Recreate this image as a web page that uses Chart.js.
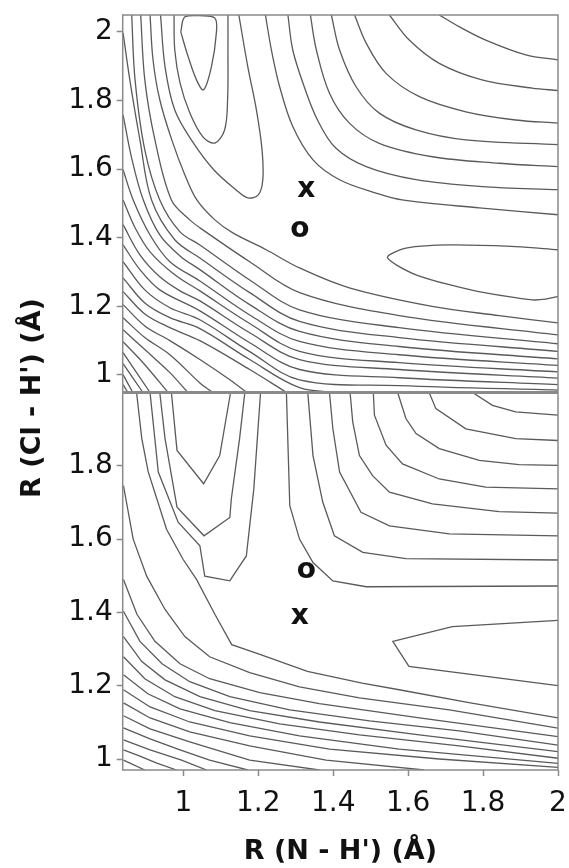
<!DOCTYPE html>
<html>
<head>
<meta charset="utf-8">
<script src="https://cdn.jsdelivr.net/npm/chart.js@4.4.1/dist/chart.umd.min.js"></script>
<style>
  html, body { margin: 0; padding: 0; background: #fff; }
  #wrap { width: 569px; height: 868px; }
  canvas { display: block; }
</style>
</head>
<body>
<div id="wrap"><canvas id="pes" width="569" height="868"></canvas></div>
<script>
// tick labels
const xTicks = [1, 1.2, 1.4, 1.6, 1.8, 2];
const yTicksTop = [1, 1.2, 1.4, 1.6, 1.8, 2];
const yTicksBottom = [1, 1.2, 1.4, 1.6, 1.8];

// --- upper panel contours, [R(N-H'), R(Cl-H')] ---
const topValleyLeft = [
  [[0.993,2.00],[1.004,2.044],[1.044,2.047],[1.084,2.040],[1.088,1.997],[1.075,1.899],[1.054,1.831],[1.035,1.860],[1.010,1.937],[0.993,2.00]],
  [[0.975,2.049],[0.977,1.947],[0.991,1.851],[1.017,1.764],[1.052,1.694],[1.084,1.676],[1.110,1.714],[1.118,1.802],[1.119,1.947],[1.119,2.049]],
  [[0.939,2.049],[0.951,1.898],[0.977,1.772],[1.023,1.682],[1.081,1.598],[1.140,1.540],[1.172,1.516],[1.200,1.525],[1.212,1.569],[1.210,1.656],[1.195,1.772],[1.172,1.898],[1.148,2.049]]
];
const topArcsUpper = [
  [[1.683,2.049],[1.736,2.015],[1.807,1.976],[1.914,1.933],[2.0,1.918]],
  [[1.550,2.049],[1.603,1.976],[1.683,1.908],[1.797,1.860],[1.931,1.836],[2.0,1.829]],
  [[1.457,2.049],[1.488,1.967],[1.541,1.879],[1.630,1.811],[1.754,1.767],[1.887,1.743],[2.0,1.734]],
  [[1.395,2.049],[1.417,1.947],[1.461,1.840],[1.523,1.763],[1.621,1.714],[1.754,1.685],[2.0,1.671]],
  [[1.339,2.049],[1.355,1.947],[1.390,1.821],[1.443,1.734],[1.523,1.675],[1.665,1.636],[1.843,1.617],[2.0,1.607]],
  [[1.279,2.049],[1.292,1.947],[1.321,1.845],[1.358,1.743],[1.406,1.662],[1.488,1.607],[1.621,1.569],[1.797,1.549],[2.0,1.540]],
  [[1.219,2.049],[1.235,1.947],[1.257,1.840],[1.292,1.724],[1.346,1.627],[1.417,1.569],[1.514,1.530],[1.584,1.510],[1.790,1.487],[2.0,1.467]]
];
const topValleyRight = [
  [[2.0,1.365],[1.887,1.374],[1.710,1.379],[1.594,1.370],[1.550,1.350],[1.545,1.341],[1.568,1.321],[1.621,1.292],[1.710,1.263],[1.807,1.239],[1.931,1.219],[1.967,1.221],[2.0,1.229]]
];
const topWallLower = [
  [[0.911,2.049],[0.919,1.918],[0.937,1.802],[0.969,1.685],[1.004,1.583],[1.036,1.510],[1.084,1.452],[1.132,1.414],[1.221,1.365],[1.310,1.312],[1.443,1.254],[1.664,1.200],[1.843,1.173],[2.0,1.152]],
  [[0.886,2.049],[0.897,1.860],[0.924,1.685],[0.968,1.510],[1.017,1.452],[1.044,1.429],[1.177,1.330],[1.310,1.240],[1.576,1.173],[2.0,1.117]],
  [[0.862,2.049],[0.871,1.860],[0.897,1.656],[0.937,1.510],[0.991,1.417],[1.044,1.379],[1.177,1.277],[1.310,1.190],[1.576,1.138],[2.0,1.091]],
  [[0.839,1.997],[0.857,1.860],[0.884,1.685],[0.915,1.510],[0.977,1.394],[1.044,1.341],[1.177,1.240],[1.310,1.156],[1.576,1.109],[2.0,1.069]],
  [[0.839,1.758],[0.863,1.627],[0.893,1.510],[0.937,1.408],[0.991,1.347],[1.044,1.307],[1.177,1.205],[1.310,1.127],[1.576,1.083],[2.0,1.047]],
  [[0.839,1.598],[0.866,1.510],[0.911,1.408],[0.964,1.330],[1.044,1.274],[1.177,1.175],[1.310,1.098],[1.576,1.059],[2.0,1.028]],
  [[0.839,1.510],[0.871,1.429],[0.911,1.359],[0.977,1.292],[1.044,1.245],[1.177,1.150],[1.310,1.069],[1.576,1.036],[2.0,1.009]],
  [[0.839,1.438],[0.884,1.350],[0.937,1.286],[0.991,1.245],[1.044,1.216],[1.177,1.123],[1.310,1.045],[1.576,1.016],[2.0,0.991]],
  [[0.839,1.379],[0.884,1.307],[0.937,1.248],[1.044,1.187],[1.177,1.094],[1.310,1.016],[1.576,0.992],[2.0,0.972]],
  [[0.839,1.330],[0.897,1.248],[0.964,1.196],[1.044,1.161],[1.177,1.068],[1.310,0.986],[1.576,0.969],[2.0,0.956]],
  [[0.839,1.283],[0.897,1.210],[0.964,1.167],[1.044,1.135],[1.177,1.045],[1.310,0.963],[1.417,0.949]],
  [[0.839,1.243],[0.897,1.178],[0.964,1.138],[1.044,1.100],[1.177,1.016],[1.276,0.949]],
  [[0.839,1.205],[0.897,1.143],[0.964,1.100],[1.044,1.045],[1.124,0.986],[1.169,0.949]],
  [[0.839,1.167],[0.897,1.109],[0.964,1.059],[1.044,0.977],[1.078,0.949]],
  [[0.839,1.132],[0.897,1.074],[0.964,1.007],[1.012,0.949]],
  [[0.839,1.097],[0.897,1.030],[0.959,0.949]],
  [[0.839,1.065],[0.911,0.949]],
  [[0.839,1.033],[0.892,0.949]],
  [[0.839,1.001],[0.865,0.949]],
  [[0.839,0.972],[0.852,0.949]]
];

// --- lower panel contours ---
const bottomValleyLeft = [
  [[0.968,2.0],[0.983,1.842],[1.054,1.751],[1.097,1.828],[1.126,2.0]],
  [[0.937,2.0],[0.951,1.874],[0.983,1.687],[1.055,1.609],[1.124,1.659],[1.128,1.710],[1.150,1.874],[1.164,2.0]],
  [[0.911,2.0],[0.933,1.783],[0.986,1.646],[1.044,1.582],[1.057,1.499],[1.124,1.486],[1.132,1.499],[1.168,1.554],[1.188,1.737],[1.206,2.0]]
];
const bottomArcsUpper = [
  [[1.772,2.0],[1.825,1.965],[1.887,1.947],[2.0,1.938]],
  [[1.656,2.0],[1.674,1.956],[1.754,1.901],[1.887,1.874],[2.0,1.869]],
  [[1.572,2.0],[1.594,1.929],[1.621,1.888],[1.683,1.847],[1.790,1.815],[1.896,1.803],[2.0,1.801]],
  [[1.507,2.0],[1.510,1.938],[1.541,1.856],[1.585,1.805],[1.683,1.764],[1.807,1.742],[2.0,1.737]],
  [[1.445,2.0],[1.452,1.920],[1.470,1.828],[1.505,1.773],[1.550,1.728],[1.665,1.696],[1.843,1.675],[2.0,1.671]],
  [[1.390,2.0],[1.399,1.901],[1.417,1.783],[1.474,1.673],[1.550,1.636],[1.710,1.614],[2.0,1.609]],
  [[1.332,2.0],[1.346,1.828],[1.372,1.701],[1.403,1.609],[1.479,1.564],[1.594,1.547],[2.0,1.543]],
  [[1.275,2.0],[1.284,1.691],[1.310,1.600],[1.346,1.536],[1.399,1.486],[1.488,1.470],[2.0,1.472]]
];
const bottomValleyRight = [
  [[2.0,1.378],[1.718,1.361],[1.559,1.321],[1.602,1.253],[2.0,1.200]]
];
const bottomWallLower = [
  [[0.875,2.0],[0.889,1.874],[0.906,1.784],[0.955,1.627],[0.999,1.545],[1.035,1.490],[1.084,1.395],[1.129,1.312],[1.206,1.285],[1.331,1.239],[1.477,1.207],[1.576,1.189],[1.766,1.153],[2.0,1.112]],
  [[0.840,1.746],[0.866,1.600],[0.902,1.499],[0.951,1.408],[1.004,1.334],[1.070,1.279],[1.177,1.236],[1.310,1.197],[1.470,1.167],[1.710,1.134],[2.0,1.084]],
  [[0.840,1.490],[0.876,1.395],[0.924,1.321],[0.991,1.260],[1.070,1.219],[1.204,1.181],[1.363,1.151],[1.630,1.112],[2.0,1.061]],
  [[0.840,1.403],[0.884,1.321],[0.943,1.260],[1.017,1.211],[1.124,1.170],[1.284,1.134],[1.497,1.104],[1.736,1.077],[2.0,1.038]],
  [[0.840,1.334],[0.889,1.266],[0.951,1.216],[1.044,1.170],[1.177,1.132],[1.363,1.101],[1.630,1.066],[2.0,1.020]],
  [[0.840,1.279],[0.897,1.219],[0.977,1.170],[1.084,1.132],[1.257,1.096],[1.470,1.066],[1.736,1.036],[2.0,1.002]],
  [[0.840,1.230],[0.905,1.178],[0.991,1.137],[1.124,1.099],[1.310,1.063],[1.576,1.027],[2.0,0.988]],
  [[0.840,1.189],[0.911,1.142],[1.017,1.101],[1.177,1.063],[1.390,1.027],[1.683,1.000],[2.0,0.977]],
  [[0.840,1.153],[0.911,1.112],[1.017,1.074],[1.177,1.036],[1.381,0.997],[1.643,0.970]],
  [[0.840,1.118],[0.911,1.082],[1.017,1.047],[1.177,0.997],[1.363,0.970]],
  [[0.840,1.085],[0.911,1.055],[0.991,1.025],[1.070,0.997],[1.172,0.970]],
  [[0.840,1.052],[0.911,1.025],[0.995,0.997],[1.062,0.970]],
  [[0.840,1.025],[0.884,1.008],[0.929,0.989],[0.982,0.970]],
  [[0.840,0.997],[0.897,0.970]]
];

// labelled points: [symbol, R(N-H'), R(Cl-H')]
const topMarkers = [['x', 1.328, 1.54], ['o', 1.311, 1.423]];
const bottomMarkers = [['o', 1.328, 1.513], ['x', 1.311, 1.389]];

const LINE = '#5a5a5a';
const FRAME = '#8a8a8a';
const INK = '#111';
const FONT = 'DejaVu Sans';

function toSets(lines, axis, tension) {
  return lines.map(line => ({
    data: line.map(([x, y]) => ({x, y})),
    yAxisID: axis,
    showLine: true,
    borderColor: LINE,
    borderWidth: 1.3,
    pointRadius: 0,
    tension: tension,
    fill: false
  }));
}

const datasets = [].concat(
  toSets(topValleyLeft, 'yTop', 0.35),
  toSets(topArcsUpper, 'yTop', 0.35),
  toSets(topValleyRight, 'yTop', 0.35),
  toSets(topWallLower, 'yTop', 0.35),
  toSets(bottomValleyLeft, 'yBot', 0),
  toSets(bottomArcsUpper, 'yBot', 0),
  toSets(bottomValleyRight, 'yBot', 0),
  toSets(bottomWallLower, 'yBot', 0)
);

// clip each contour to its own panel, then draw frame, markers and the shared y title
const panelPlugin = {
  id: 'panels',
  beforeDatasetDraw(chart, args) {
    const ys = chart.scales[args.meta.yAxisID];
    const a = chart.chartArea;
    chart.ctx.save();
    chart.ctx.beginPath();
    chart.ctx.rect(a.left, ys.top, a.right - a.left, ys.bottom - ys.top);
    chart.ctx.clip();
  },
  afterDatasetDraw(chart) {
    chart.ctx.restore();
  },
  afterDraw(chart) {
    const ctx = chart.ctx, a = chart.chartArea;
    const xs = chart.scales.x, yT = chart.scales.yTop, yB = chart.scales.yBot;
    ctx.save();
    ctx.strokeStyle = FRAME;
    ctx.lineWidth = 1.5;
    ctx.strokeRect(a.left, a.top, a.right - a.left, a.bottom - a.top);
    ctx.lineWidth = 3;
    ctx.beginPath();
    ctx.moveTo(a.left, yT.bottom);
    ctx.lineTo(a.right, yT.bottom);
    ctx.stroke();

    ctx.fillStyle = INK;
    ctx.font = 'bold 28px "' + FONT + '"';
    ctx.textAlign = 'center';
    ctx.textBaseline = 'middle';
    topMarkers.forEach(([ch, x, y]) => ctx.fillText(ch, xs.getPixelForValue(x), yT.getPixelForValue(y)));
    bottomMarkers.forEach(([ch, x, y]) => ctx.fillText(ch, xs.getPixelForValue(x), yB.getPixelForValue(y)));

    ctx.translate(33, 398);
    ctx.rotate(-Math.PI / 2);
    ctx.font = 'bold 27px "' + FONT + '"';
    ctx.fillText("R (Cl - H') (Å)", 0, 0);
    ctx.restore();
  }
};

function yAxis(min, max, ticks) {
  return {
    type: 'linear',
    position: 'left',
    stack: 'panels',
    stackWeight: 1,
    min: min,
    max: max,
    afterFit: s => { s.width = 122.7; s.paddingTop = 0; s.paddingBottom = 0; },
    afterBuildTicks: s => { s.ticks = ticks.map(v => ({value: v})); },
    grid: { drawOnChartArea: false, tickLength: 6, tickColor: FRAME, tickWidth: 1.5 },
    border: { display: false },
    ticks: { font: { family: FONT, size: 28 }, color: INK, padding: 4, autoSkip: false, callback: v => String(v) }
  };
}

new Chart(document.getElementById('pes'), {
  type: 'scatter',
  data: { datasets: datasets },
  options: {
    responsive: false,
    devicePixelRatio: 1,
    animation: false,
    events: [],
    layout: { padding: { top: 15, right: 11, left: 0, bottom: 0 } },
    plugins: { legend: { display: false }, tooltip: { enabled: false } },
    scales: {
      x: {
        type: 'linear',
        min: 0.838,
        max: 2.0,
        afterFit: s => { s.height = 98; s.paddingLeft = 0; s.paddingRight = 0; },
        afterBuildTicks: s => { s.ticks = xTicks.map(v => ({value: v})); },
        grid: { drawOnChartArea: false, tickLength: 6, tickColor: FRAME, tickWidth: 1.5 },
        border: { display: false },
        ticks: { font: { family: FONT, size: 28 }, color: INK, padding: 11, maxRotation: 0, autoSkip: false, callback: v => String(v) },
        title: {
          display: true,
          text: "R (N - H') (Å)",
          color: INK,
          font: { family: FONT, size: 27, weight: 'bold' },
          padding: { top: 0, bottom: 0 }
        }
      },
      // stacked left axes are placed last-defined first, so the lower panel is listed first
      yBot: yAxis(0.97, 2.0, yTicksBottom),
      yTop: yAxis(0.949, 2.049, yTicksTop)
    }
  },
  plugins: [panelPlugin]
});
</script>
</body>
</html>
